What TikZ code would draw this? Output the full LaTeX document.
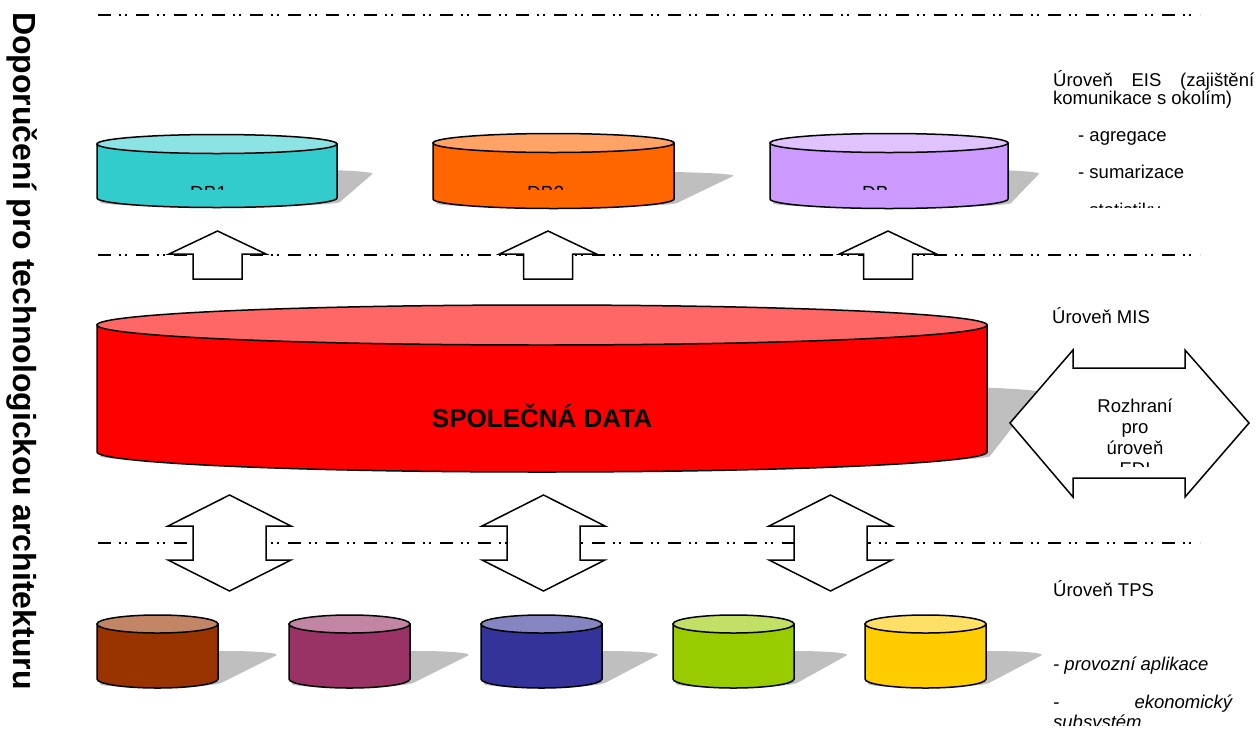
\documentclass[tikz,border=0pt]{standalone}
\usepackage{fontspec}
\setmainfont{Liberation Sans}

\definecolor{dbAbody}{HTML}{33CCCC}
\definecolor{dbAtop}{HTML}{8CE3E3}
\definecolor{dbBbody}{HTML}{FF6600}
\definecolor{dbBtop}{HTML}{FFA366}
\definecolor{dbCbody}{HTML}{CC99FF}
\definecolor{dbCtop}{HTML}{E0C2FF}
\definecolor{mainbody}{HTML}{FF0000}
\definecolor{maintop}{HTML}{FF6666}
\definecolor{tpsAbody}{HTML}{993300}
\definecolor{tpsAtop}{HTML}{C28566}
\definecolor{tpsBbody}{HTML}{993366}
\definecolor{tpsBtop}{HTML}{C285A3}
\definecolor{tpsCbody}{HTML}{333399}
\definecolor{tpsCtop}{HTML}{8585C2}
\definecolor{tpsDbody}{HTML}{99CC00}
\definecolor{tpsDtop}{HTML}{C2E066}
\definecolor{tpsEbody}{HTML}{FFCC00}
\definecolor{tpsEtop}{HTML}{FFE066}
\definecolor{shadowgrey}{HTML}{BFBFBF}

% cylinder: left x, right x, top-ellipse y, base y, ellipse half-height, body colour, lid colour
\newcommand\dbcyl[7]{%
  \pgfmathsetmacro\cylrx{(#2-#1)/2}%
  \pgfmathsetmacro\cylcx{(#1+#2)/2}%
  \filldraw[cylline, fill=#6] (#1,#3) -- (#1,#4)
    arc[start angle=180, end angle=360, x radius=\cylrx pt, y radius=#5pt]
    -- (#2,#3) -- cycle;
  \filldraw[cylline, fill=#7] (\cylcx,#3) ellipse[x radius=\cylrx pt, y radius=#5pt];%
}

% slanted cast shadow of a cylinder: same geometry, then slant k and squash s
\newcommand\dbshadow[7]{%
  \pgfmathsetmacro\cylrx{(#2-#1)/2}%
  \pgfmathsetmacro\cylcx{(#1+#2)/2}%
  \pgfmathsetmacro\cylh{#4-#3}%
  \begin{scope}[shift={(\cylcx+3,#4+4)}, cm={1,0,#6,#7,(0,0)}]
    \fill[shadowgrey] (-\cylrx,0) -- (-\cylrx,-\cylh)
      arc[start angle=180, end angle=0, x radius=\cylrx pt, y radius=#5pt]
      -- (\cylrx,0)
      arc[start angle=0, end angle=-180, x radius=\cylrx pt, y radius=#5pt]
      -- cycle;
  \end{scope}%
}

\begin{document}
\begin{tikzpicture}[x=1pt, y=-1pt,
  layerline/.style={line width=1.8pt,
    dash pattern=on 13pt off 8pt on 2pt off 4pt on 2pt off 9pt},
  cylline/.style={draw=black, line width=1.5pt},
  blockarrow/.style={draw=black, fill=white, line width=1.5pt, line join=miter},
  rtext/.style={font=\fontsize{18.5}{19}\selectfont, inner sep=0pt, anchor=base west},
  dbtext/.style={font=\fontsize{19}{21}\selectfont, inner sep=0pt, anchor=base west},
  edi/.style={font=\fontsize{18.5}{19}\selectfont, inner sep=0pt, anchor=base},
]
\useasboundingbox (0,0) rectangle (1258,729);

% level separators
\draw[layerline] (98,15) -- (1200,15);
\draw[layerline] (98,255) -- (1200,255);
\draw[layerline] (98,543) -- (1200,543);

% shadows
\dbshadow{97}{337}{144}{198}{9.5}{0.6}{0.52}
\dbshadow{433}{674}{143}{199}{9.5}{1.0}{0.48}
\dbshadow{770}{1008}{143}{199}{9.5}{0.5}{0.52}
\dbshadow{97}{987}{325}{452}{20}{0.39}{0.5}
\dbshadow{97}{218}{624}{679}{9}{1.0}{0.5}
\dbshadow{289}{410}{624}{679}{9}{1.0}{0.5}
\dbshadow{481}{602}{624}{679}{9}{0.95}{0.5}
\dbshadow{673}{794}{624}{679}{9}{0.9}{0.5}
\dbshadow{865}{986}{624}{679}{9}{0.95}{0.5}

% EIS level databases
\dbcyl{97}{337}{144}{198}{9.5}{dbAbody}{dbAtop}
\dbcyl{433}{674}{143}{199}{9.5}{dbBbody}{dbBtop}
\dbcyl{770}{1008}{143}{199}{9.5}{dbCbody}{dbCtop}

% shared data (MIS level)
\dbcyl{97}{987}{325}{452}{20}{mainbody}{maintop}

% TPS level databases
\dbcyl{97}{218}{624}{679}{9}{tpsAbody}{tpsAtop}
\dbcyl{289}{410}{624}{679}{9}{tpsBbody}{tpsBtop}
\dbcyl{481}{602}{624}{679}{9}{tpsCbody}{tpsCtop}
\dbcyl{673}{794}{624}{679}{9}{tpsDbody}{tpsDtop}
\dbcyl{865}{986}{624}{679}{9}{tpsEbody}{tpsEtop}

% labels of the EIS databases (text boxes cut short)
\begin{scope}
  \clip (100,170) rectangle (1005,189);
  \node[dbtext] (dbA) at (190,199) {DB1};
  \node[dbtext] (dbB) at (527,199) {DB2};
  \node[dbtext] (dbC) at (862,199) {DB...};
\end{scope}

\node[font=\fontsize{26}{28}\selectfont\bfseries, inner sep=0pt, anchor=base]
  (shared) at (542,427) {SPOLEČNÁ DATA};

% aggregation arrows MIS -> EIS
\foreach \cx in {217.5,548,888}{
  \draw[blockarrow] (\cx,231) -- (\cx+48.5,254) -- (\cx+24.5,254) -- (\cx+24.5,279)
    -- (\cx-24.5,279) -- (\cx-24.5,254) -- (\cx-48.5,254) -- cycle;
}

% exchange arrows TPS <-> MIS
\foreach \cx in {229.5,543.5,830.5}{
  \draw[blockarrow] (\cx,495) -- (\cx+61.5,526) -- (\cx+36.5,526) -- (\cx+36.5,560)
    -- (\cx+61.5,560) -- (\cx,591) -- (\cx-61.5,560) -- (\cx-36.5,560)
    -- (\cx-36.5,526) -- (\cx-61.5,526) -- cycle;
}

% EDI interface arrow
\draw[blockarrow] (1010,423) -- (1073,350) -- (1073,368) -- (1185,368) -- (1185,350)
  -- (1249,423) -- (1185,497) -- (1185,478) -- (1073,478) -- (1073,497) -- cycle;
\begin{scope}
  \clip (1080,380) rectangle (1190,466);
  \node[edi] (ediA) at (1135,412) {Rozhraní};
  \node[edi] (ediB) at (1135,433) {pro};
  \node[edi] (ediC) at (1135,454) {úroveň};
  \node[edi] (ediD) at (1135,475) {EDI};
\end{scope}

% level descriptions
\begin{scope}
  \clip (1040,55) rectangle (1258,207);
  \node[rtext] (eisA) at (1053,86) {\makebox[201pt][s]{Úroveň EIS (zajištění}};
  \node[rtext] (eisB) at (1053,104) {komunikace s okolím)};
  \node[rtext] (eisC) at (1078,141) {- agregace};
  \node[rtext] (eisD) at (1078,178) {- sumarizace};
  \node[rtext] (eisE) at (1078,216) {- statistiky};
\end{scope}

\node[rtext] (mis) at (1052,323) {Úroveň MIS};

\node[rtext] (tps) at (1053,596) {Úroveň TPS};
\begin{scope}
  \clip (1040,640) rectangle (1258,725);
  \node[rtext] (tpsA) at (1053,670) {\itshape - provozní aplikace};
  \node[rtext] (tpsB) at (1053,708) {\itshape\makebox[179pt][s]{- ekonomický}};
  \node[rtext] (tpsC) at (1053,728) {\itshape subsystém};
\end{scope}

% vertical title
\node[font=\fontsize{32}{36}\selectfont\bfseries, inner sep=0pt, rotate=-90,
  anchor=base west] (title) at (13,12) {Doporučení pro technologickou architekturu};
\end{tikzpicture}
\end{document}
